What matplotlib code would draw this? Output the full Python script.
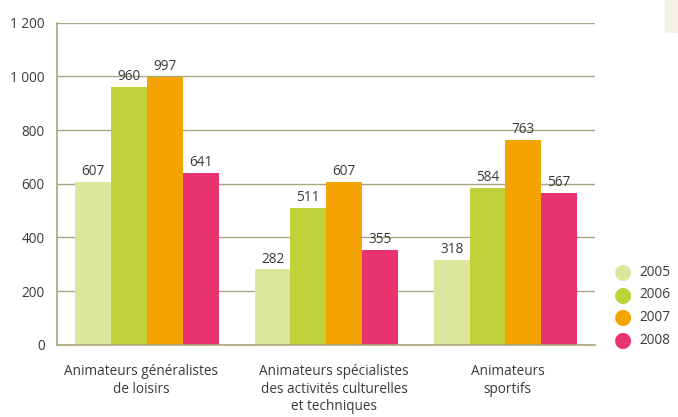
import numpy as np
import matplotlib.pyplot as plt
import matplotlib.transforms as mtransforms
from matplotlib.patches import Rectangle

plt.rcParams['font.family'] = ['Open Sans', 'DejaVu Sans']

categories = ["Animateurs généralistes\nde loisirs",
              "Animateurs spécialistes\ndes activités culturelles\net techniques",
              "Animateurs\nsportifs"]
years = ["2005", "2006", "2007", "2008"]
values = {
    "2005": [607, 282, 318],
    "2006": [960, 511, 584],
    "2007": [997, 607, 763],
    "2008": [641, 355, 567],
}
colors = ["#dce69c", "#bfd23a", "#f4a300", "#e8336f"]
yticks = [0, 200, 400, 600, 800, 1000, 1200]
ytick_labels = ["0", "200", "400", "600", "800", "1 000", "1 200"]

grid_col = "#aaa57c"
text_col = "#3a3a3a"
fs = 9.8

fig = plt.figure(figsize=(6.78, 4.17), dpi=100)
ax = fig.add_axes([0.0848, 0.1727, 0.7928, 0.7733])

x = np.arange(len(categories))
w = 0.2
for i, yr in enumerate(years):
    pos = x - 0.3 + i * w
    bars = ax.bar(pos, values[yr], width=w, color=colors[i], zorder=3)
    for b, v in zip(bars, values[yr]):
        ax.text(b.get_x() + w / 2, v + 10, str(v), ha='center', va='bottom',
                fontsize=fs, color=text_col, zorder=4)

ax.set_xlim(-0.5, 2.5)
ax.set_ylim(0, 1200)
ax.set_yticks(yticks)
ax.set_yticklabels(ytick_labels, fontsize=fs, color=text_col)
ax.set_xticks(x)
ax.set_xticklabels(categories, fontsize=fs, color=text_col, linespacing=1.2)
ax.tick_params(axis='both', length=0)
ax.tick_params(axis='y', pad=9)
ax.tick_params(axis='x', pad=14)
# the category labels sit a little off the group centres in the original
for lab, dx in zip(ax.get_xticklabels(), [-6, 8, 2]):
    lab.set_transform(lab.get_transform() +
                      mtransforms.ScaledTranslation(dx / 100, 0, fig.dpi_scale_trans))
ax.yaxis.grid(True, color=grid_col, linewidth=1, zorder=0)
ax.set_axisbelow(True)
for s in ['top', 'right']:
    ax.spines[s].set_visible(False)
for s in ['left', 'bottom']:
    ax.spines[s].set_color(grid_col)
    ax.spines[s].set_linewidth(1.2)
    ax.spines[s].set_zorder(5)

# legend on the right
for i, yr in enumerate(years):
    yf = 1 - (272 + i * 22.7) / 417
    fig.text(623 / 678, yf, "\u25CF", ha='center', va='center', fontsize=15,
             color=colors[i], family='DejaVu Sans')
    fig.text(639 / 678, yf, yr, ha='left', va='center', fontsize=fs, color=text_col)

fig.patches.append(Rectangle((665 / 678, 1 - 32 / 417), 13 / 678, 32 / 417,
                             transform=fig.transFigure, color="#f3f1ea", zorder=0))

fig.savefig("out.png", dpi=100)
